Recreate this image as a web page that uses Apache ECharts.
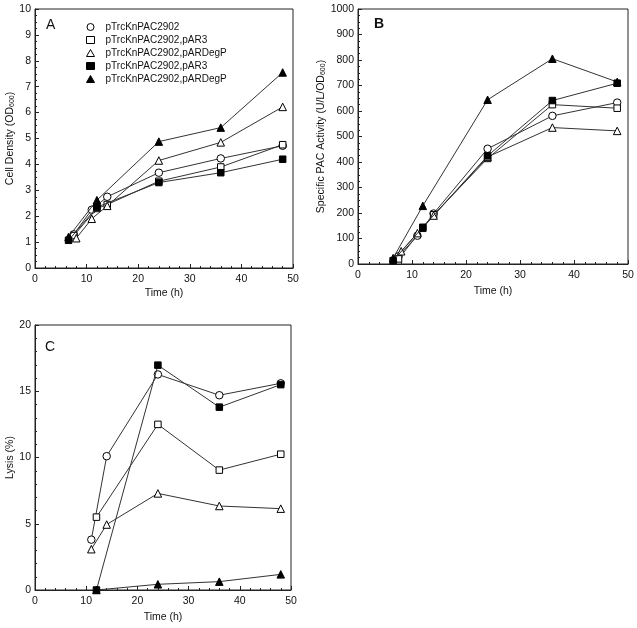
<!DOCTYPE html>
<html>
<head>
<meta charset="utf-8">
<script src="https://cdn.jsdelivr.net/npm/echarts@6/dist/echarts.min.js"></script>
<style>html,body{margin:0;padding:0;background:#fff;}#c{width:637px;height:628px;}</style>
</head>
<body>
<div id="c"></div>
<script>
// ---- data ----
const legendLabels = ['pTrcKnPAC2902','pTrcKnPAC2902,pAR3','pTrcKnPAC2902,pARDegP','pTrcKnPAC2902,pAR3','pTrcKnPAC2902,pARDegP'];
const symbols = ['circle','rect','triangle','rect','triangle'];
const filled = [false,false,false,true,true];

// Panel A: Cell density (OD600)  [time h, value]
const aOpenCircle   = [[7.5,1.3],[11,2.25],[14,2.75],[24,3.68],[36,4.23],[48,4.72]];
const aOpenSquare   = [[7.5,1.25],[12,2.3],[14,2.45],[24,3.35],[36,3.9],[48,4.76]];
const aOpenTriangle = [[8,1.15],[11,1.9],[14,2.4],[24,4.15],[36,4.85],[48,6.22]];
const aFillSquare   = [[6.5,1.07],[12,2.35],[24,3.3],[36,3.68],[48,4.2]];
const aFillTriangle = [[6.5,1.2],[12,2.62],[24,4.88],[36,5.42],[48,7.55]];

// Panel B: Specific PAC activity (U/L/OD600)
const bOpenCircle   = [[7.5,30],[11,111],[14,198],[24,452],[36,581],[48,633]];
const bOpenSquare   = [[7.5,20],[12,140],[14,193],[24,414],[36,625],[48,611]];
const bOpenTriangle = [[8,50],[11,121],[14,190],[24,420],[36,535],[48,522]];
const bFillSquare   = [[6.5,13],[12,144],[24,424],[36,641],[48,709]];
const bFillTriangle = [[6.5,23],[12,228],[24,644],[36,805],[48,714]];

// Panel C: Lysis (%)
const cOpenCircle   = [[11,3.8],[14,10.1],[24,16.27],[36,14.7],[48,15.6]];
const cOpenSquare   = [[12,5.5],[24,12.5],[36,9.05],[48,10.25]];
const cOpenTriangle = [[11,3.08],[14,4.94],[24,7.29],[36,6.34],[48,6.14]];
const cFillSquare   = [[12,0],[24,16.97],[36,13.8],[48,15.5]];
const cFillTriangle = [[12,0],[24,0.43],[36,0.63],[48,1.18]];

const panels = [
  [aOpenCircle,aOpenSquare,aOpenTriangle,aFillSquare,aFillTriangle],
  [bOpenCircle,bOpenSquare,bOpenTriangle,bFillSquare,bFillTriangle],
  [cOpenCircle,cOpenSquare,cOpenTriangle,cFillSquare,cFillTriangle]
];

// ---- chart ----
const FONT = "'Liberation Sans', Arial, sans-serif";
const chart = echarts.init(document.getElementById('c'), null, {renderer:'canvas'});

const grids = [
  {left:35, top:9, width:258, height:259},
  {left:358, top:9, width:270, height:255},
  {left:35, top:325, width:256, height:265}
].map(g => Object.assign(g, {show:true, borderColor:'#222', borderWidth:1, backgroundColor:'transparent'}));

function xAx(i, gap){
  return {
    type:'value', gridIndex:i, min:0, max:50, interval:10,
    name:'Time (h)', nameLocation:'middle', nameGap:gap,
    nameTextStyle:{fontFamily:FONT, fontSize:10.5, color:'#111'},
    axisLine:{show:true, onZero:false, lineStyle:{color:'#222', width:1}},
    axisTick:{show:true, inside:true, length:4, lineStyle:{color:'#222'}},
    minorTick:{show:true, splitNumber:5, length:2, lineStyle:{color:'#222'}},
    axisLabel:{fontFamily:FONT, fontSize:10.5, color:'#111', margin:6},
    splitLine:{show:false}
  };
}
function yAx(i, max, interval, minorSplit, name, gap){
  return {
    type:'value', gridIndex:i, min:0, max:max, interval:interval,
    name:name, nameLocation:'middle', nameGap:gap, nameRotate:90,
    nameTextStyle:{fontFamily:FONT, fontSize:10.5, color:'#111',
      rich:{n:{fontFamily:FONT, fontSize:10.5, color:'#111'}, s:{fontFamily:FONT, fontSize:7, color:'#111', padding:[4,0,0,0]}}},
    axisLine:{show:true, onZero:false, lineStyle:{color:'#222', width:1}},
    axisTick:{show:true, inside:true, length:4, lineStyle:{color:'#222'}},
    minorTick:{show:true, splitNumber:minorSplit, length:2, lineStyle:{color:'#222'}},
    axisLabel:{fontFamily:FONT, fontSize:10.5, color:'#111', margin:4, formatter: v => String(v)},
    splitLine:{show:false}
  };
}

const series = [];
panels.forEach((pd, pi) => {
  pd.forEach((data, si) => {
    series.push({
      name: pi === 0 ? 'L' + si : 'P' + pi + '_' + si,
      type:'line', xAxisIndex:pi, yAxisIndex:pi, data:data,
      symbol:symbols[si], symbolSize: symbols[si] === 'rect' ? 6.5 : 7.5,
      showAllSymbol:true,
      lineStyle:{color:'#333', width:1},
      itemStyle:{color: filled[si] ? '#000' : '#fff', borderColor:'#000', borderWidth:1},
      emphasis:{disabled:true},
      z: filled[si] ? 3 : 2,
      animation:false
    });
  });
});

const option = {
  backgroundColor:'#fff',
  animation:false,
  grid: grids,
  xAxis: [xAx(0,20), xAx(1,22), xAx(2,22)],
  yAxis: [
    yAx(0,10,1,4,'{n|Cell Density (OD}{s|600}{n|)}',16),
    yAx(1,1000,100,4,'{n|Specific PAC Activity (U/L/OD}{s|600}{n|)}',25),
    yAx(2,20,5,5,'{n|Lysis (%)}',17)
  ],
  legend:{
    orient:'vertical', left:81, top:17, itemGap:3, itemWidth:8, itemHeight:7,
    selectedMode:false,
    textStyle:{fontFamily:FONT, fontSize:10, color:'#111', padding:[0,0,0,6]},
    data: legendLabels.map((t, i) => ({
      name:'L' + i, icon: symbols[i] === 'rect' ? 'rect' : symbols[i],
      itemStyle:{color: filled[i] ? '#000' : '#fff', borderColor:'#000', borderWidth:1}
    })),
    formatter: n => legendLabels[+n.slice(1)]
  },
  graphic:[
    {type:'text', left:46, top:18, style:{text:'A', font:'14px ' + FONT, fill:'#111'}},
    {type:'text', left:374, top:17, style:{text:'B', font:'bold 14px ' + FONT, fill:'#111'}},
    {type:'text', left:45, top:340, style:{text:'C', font:'14px ' + FONT, fill:'#111'}}
  ],
  series: series
};
chart.setOption(option);
</script>
</body>
</html>
